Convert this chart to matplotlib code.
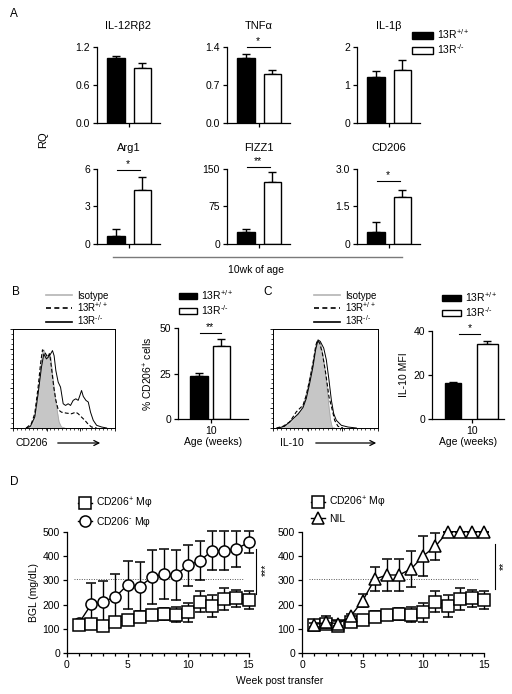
import numpy as np
import matplotlib
matplotlib.use("Agg")
import matplotlib.pyplot as plt
from matplotlib.patches import Patch
from matplotlib.lines import Line2D

plt.rcParams["font.family"] = ["Liberation Sans", "DejaVu Sans"]
plt.rcParams["mathtext.fontset"] = "custom"
plt.rcParams["mathtext.rm"] = "Liberation Sans"
plt.rcParams["mathtext.it"] = "Liberation Sans:italic"
plt.rcParams["font.size"] = 7.5
plt.rcParams["axes.linewidth"] = 0.9
plt.rcParams["xtick.major.width"] = 0.9
plt.rcParams["ytick.major.width"] = 0.9
plt.rcParams["xtick.major.size"] = 3
plt.rcParams["ytick.major.size"] = 3
plt.rcParams["xtick.major.pad"] = 2
plt.rcParams["ytick.major.pad"] = 2

# ---- data: panel A (qPCR, RQ) ----
genes = ["IL-12Rβ2", "TNFα", "IL-1β", "Arg1", "FIZZ1", "CD206"]
rq_wt = [1.03, 1.20, 1.20, 0.64, 23.5, 0.48]
rq_wt_sem = [0.03, 0.07, 0.16, 0.54, 6.5, 0.39]
rq_ko = [0.87, 0.91, 1.39, 4.34, 124.6, 1.88]
rq_ko_sem = [0.07, 0.065, 0.28, 1.04, 19.4, 0.29]
rq_ymax = [1.2, 1.4, 2, 6, 150, 3.0]
rq_ticklabels = [["0.0", "0.6", "1.2"], ["0.0", "0.7", "1.4"], ["0", "1", "2"],
                 ["0", "3", "6"], ["0", "75", "150"], ["0", "1.5", "3.0"]]
rq_sig = ["", "*", "", "*", "**", "*"]
rq_sig_y = [None, 1.40, None, 5.95, 154, 2.52]

# ---- data: panel B / C bars ----
cd206_pct = [23.6, 40.3]
cd206_pct_sem = [1.8, 3.5]
il10_mfi = [16.4, 34.3]
il10_mfi_sem = [0.6, 1.3]

# ---- data: histograms (x, y in % of plot box) ----
b_iso_x = [14.8, 18, 21.3, 23.6, 25.6, 27.2, 28.9, 30.2, 31.8, 33.4, 35.4, 37, 38.7, 41, 43.3, 45.2, 47.5, 50.8]
b_iso_y = [0, 1.7, 9.4, 21, 41, 61, 77, 79, 75, 72, 75.5, 71.5, 55, 34.6, 17.8, 6, 1, 0]
b_wt_x = [13, 18, 21.3, 24.6, 27, 28.9, 30.5, 32, 33.8, 36, 37.7, 40, 42, 44.3, 47.5, 52.5, 57.4, 61.6, 63.9,
          67.2, 70.5, 73.8, 77, 82]
b_wt_y = [0, 4.4, 14.4, 41, 65, 79, 76.5, 75, 71.5, 75, 61, 41, 28, 18.5, 16, 15, 14.4, 16, 14.4,
          11, 7.7, 3.7, 1, 0]
b_ko_x = [13, 17, 21.3, 24.6, 27.9, 30.2, 32.8, 35, 37, 38.7, 40.3, 42, 44.3, 46.6, 49.2, 51.5, 54.1, 56.4,
          59, 61.6, 63.9, 65.6, 67.2, 68.9, 71.5, 73.8, 76, 78.7, 82, 86.9, 91.8]
b_ko_y = [0, 1.7, 11, 34.6, 61.4, 74.8, 69.8, 72, 75, 78.2, 73, 58, 46.3, 41.3, 24.5, 22.8, 24.5, 22.8,
          27.9, 29.5, 27.9, 32.9, 37.9, 31.9, 27.9, 26.2, 16, 7.7, 2.7, 1, 0]
c_iso_x = [4.8, 9.5, 15.9, 22.2, 27, 30.2, 33.3, 36.5, 39.7, 41.3, 42.9, 45, 47, 49.2, 51.4, 53.3, 54.9, 56.5, 58.7]
c_iso_y = [0, 1, 4.4, 12.9, 18, 28, 41.7, 58.6, 75.6, 85.8, 88.5, 86.4, 77.3, 62, 41.7, 21.4, 7.8, 0.3, 0]
c_wt_x = [3.2, 9.5, 15.9, 22.2, 28.6, 31.7, 34.9, 38.1, 40.6, 42.2, 44.4, 47, 50.2, 53.3, 56.5, 58.7, 61.9, 66.7]
c_wt_y = [0, 1.7, 6.1, 16.3, 23, 33, 48.5, 65.4, 82.4, 88.5, 85.8, 75.6, 55.3, 31.5, 18, 7.8, 1.7, 0]
c_ko_x = [4.8, 11, 17.5, 23.8, 28.6, 31.7, 34.9, 38.1, 40.6, 42.9, 45, 48.3, 50.8, 53.3, 55.6, 57.8, 60.3,
          65.1, 71.4, 79.4]
c_ko_y = [0, 1.7, 7.8, 13.9, 20.7, 29.8, 45, 62, 79, 89, 87.5, 80.7, 68.8, 48.5, 28, 14.6, 7.8, 2.7, 1, 0]

# ---- data: panel D (BGL, mg/dL) ----
weeks = list(range(1, 16))
bgl_cd206pos = [116, 120, 114, 127, 137, 151, 158, 160, 158, 168, 212, 196, 223, 226, 221]
bgl_cd206pos_sem = [8, 8, 8, 8, 8, 24, 21, 25, 31, 39, 44, 45, 44, 34, 37]
bgl_cd206neg = [125, 201, 212, 232, 281, 274, 312, 326, 322, 362, 381, 422, 422, 429, 456]
bgl_cd206neg_sem = [8, 87, 84, 93, 100, 103, 111, 103, 104, 85, 81, 79, 79, 73, 45]
bgl_nil = [118, 127, 122, 152, 216, 305, 322, 322, 347, 401, 440, 500, 500, 500, 500]
bgl_nil_sem = [8, 25, 10, 10, 27, 50, 65, 65, 75, 82, 55, 0, 0, 0, 0]
diabetes_cutoff = 305

W, H = 512, 694
fig = plt.figure(figsize=(W / 100, H / 100), dpi=100)


def add_ax(left, top, width, height):
    return fig.add_axes([left / W, 1 - (top + height) / H, width / W, height / H])


def fx(px):
    return px / W


def fy(py):
    return 1 - py / H


wt_label = r"13R$^{+/+}$"
ko_label = r"13R$^{\text{-/-}}$"


def bar_pair(ax, vals, sems, xs, widths, ymax, ticklabels, tick_x):
    colors = ["black", "white"]
    for x, v, s, w, c in zip(xs, vals, sems, widths, colors):
        ax.bar(x, v, width=w, color=c, edgecolor="black", linewidth=1.0, zorder=2)
        ax.errorbar(x, v, yerr=[[0], [s]], fmt="none", ecolor="black", elinewidth=1.0,
                    capsize=3, capthick=1.0, zorder=1)
    ax.set_xlim(0, 1)
    ax.set_ylim(0, ymax)
    ax.set_yticks([0, ymax / 2, ymax])
    ax.set_yticklabels(ticklabels)
    ax.set_xticks([tick_x])
    ax.spines["top"].set_visible(False)
    ax.spines["right"].set_visible(False)


def sig_bar(ax, x0, x1, y, text):
    ax.plot([x0, x1], [y, y], color="black", lw=0.8, clip_on=False)
    ax.annotate(text, xy=((x0 + x1) / 2, y), xytext=(0, 0.5), textcoords="offset points",
                ha="center", va="bottom", fontsize=7.5, annotation_clip=False)


# ---------------- Panel A ----------------
lefts = [97, 227, 357]
tops = [47, 169]
for i, g in enumerate(genes):
    ax = add_ax(lefts[i % 3], tops[i // 3], 63, 76 if i < 3 else 75)
    bar_pair(ax, [rq_wt[i], rq_ko[i]], [rq_wt_sem[i], rq_ko_sem[i]], [0.30, 0.72], [0.28, 0.27],
             rq_ymax[i], rq_ticklabels[i], 0.51)
    ax.set_xticklabels([""])
    ax.set_title(g, fontsize=8, pad=13)
    if rq_sig[i]:
        sig_bar(ax, 0.31, 0.68, rq_sig_y[i], rq_sig[i])

fig.legend(handles=[Patch(facecolor="black", edgecolor="black"),
                    Patch(facecolor="white", edgecolor="black")],
           labels=[wt_label, ko_label], loc="upper left",
           bbox_to_anchor=(fx(407), fy(22)), frameon=False, fontsize=7.5,
           handlelength=2.0, handleheight=0.6, labelspacing=0.12, handletextpad=0.4, borderpad=0)

fig.text(fx(10), fy(14), "A", fontsize=8.5, ha="left", va="center")
fig.text(fx(43), fy(140), "RQ", fontsize=8, rotation=90, ha="center", va="center")
fig.add_artist(Line2D([fx(113), fx(402)], [fy(257), fy(257)], color="#7a7a7a", lw=1.0))
fig.text(fx(256), fy(270), "10wk of age", fontsize=7.5, ha="center", va="center")


# ---------------- Histograms (B and C) ----------------
def histo(ax, iso_x, iso_y, wt_x, wt_y, ko_x, ko_y):
    ax.fill_between(iso_x, iso_y, color="#c6c6c6", lw=0)
    ax.plot(iso_x, iso_y, color="#a8a8a8", lw=0.6)
    ax.plot(wt_x, wt_y, color="black", lw=0.8, ls=(0, (3.5, 2)))
    ax.plot(ko_x, ko_y, color="black", lw=0.7)
    ax.set_xlim(0, 100)
    ax.set_ylim(0, 100)
    ax.set_yticks(np.arange(0, 101, 20))
    ax.set_yticks(np.arange(0, 101, 5), minor=True)
    ax.set_xticks([0, 33, 66, 100])
    ax.set_xticks(np.arange(0, 101, 4), minor=True)
    ax.tick_params(which="major", length=2.5, width=0.6, labelleft=False, labelbottom=False)
    ax.tick_params(which="minor", length=1.2, width=0.5)
    for s in ax.spines.values():
        s.set_linewidth(0.7)


def line_legend(x, y):
    handles = [Line2D([], [], color="#b4b4b4", lw=1.2),
               Line2D([], [], color="black", lw=1.2, ls=(0, (3, 2))),
               Line2D([], [], color="black", lw=1.2)]
    fig.legend(handles=handles, labels=["Isotype", wt_label, ko_label], loc="upper left",
               bbox_to_anchor=(fx(x), fy(y)), frameon=False, fontsize=7, handlelength=2.7,
               labelspacing=-0.08, handletextpad=0.5, borderpad=0)


def bar_legend(x, y, hl):
    fig.legend(handles=[Patch(facecolor="black", edgecolor="black"),
                        Patch(facecolor="white", edgecolor="black")],
               labels=[wt_label, ko_label], loc="upper left",
               bbox_to_anchor=(fx(x), fy(y)), frameon=False, fontsize=7.5,
               handlelength=hl, handleheight=0.5, labelspacing=0.1, handletextpad=0.4, borderpad=0)


axb = add_ax(13, 329, 102, 99)
histo(axb, b_iso_x, b_iso_y, b_wt_x, b_wt_y, b_ko_x, b_ko_y)
fig.text(fx(12), fy(292), "B", fontsize=8.5, ha="left", va="center")
line_legend(41, 286)
fig.text(fx(16), fy(443), "CD206", fontsize=7.5, ha="left", va="center")
fig.add_artist(matplotlib.patches.FancyArrowPatch((fx(55), fy(443)), (fx(103), fy(443)),
                                                  transform=fig.transFigure, arrowstyle="->",
                                                  mutation_scale=9, lw=0.9, color="black"))

axbb = add_ax(178, 328, 70, 91)
bar_pair(axbb, cd206_pct, cd206_pct_sem, [0.30, 0.62], [0.26, 0.25], 50, ["0", "25", "50"], 0.47)
axbb.set_xticklabels(["10"])
axbb.set_xlabel("Age (weeks)", fontsize=7.5, labelpad=1)
axbb.set_ylabel(r"% CD206$^{+}$ cells", fontsize=7.5, labelpad=3)
sig_bar(axbb, 0.31, 0.61, 47.5, "**")
bar_legend(174, 283, 1.7)

axc = add_ax(273, 329, 105, 99)
histo(axc, c_iso_x, c_iso_y, c_wt_x, c_wt_y, c_ko_x, c_ko_y)
fig.text(fx(263), fy(292), "C", fontsize=8.5, ha="left", va="center")
line_legend(309, 286)
fig.text(fx(280), fy(443), "IL-10", fontsize=7.5, ha="left", va="center")
fig.add_artist(matplotlib.patches.FancyArrowPatch((fx(313), fy(443)), (fx(379), fy(443)),
                                                  transform=fig.transFigure, arrowstyle="->",
                                                  mutation_scale=9, lw=0.9, color="black"))

axcb = add_ax(432, 331, 72, 88)
bar_pair(axcb, il10_mfi, il10_mfi_sem, [0.29, 0.77], [0.23, 0.29], 40, ["0", "20", "40"], 0.56)
axcb.set_xticklabels(["10"])
axcb.set_xlabel("Age (weeks)", fontsize=7.5, labelpad=1)
axcb.set_ylabel("IL-10 MFI", fontsize=7.5, labelpad=3)
sig_bar(axcb, 0.375, 0.67, 38.8, "*")
bar_legend(437, 285, 1.8)


# ---------------- Panel D ----------------
def bgl_series(ax, y, sem, marker, z):
    eb = ax.errorbar(weeks, y, yerr=sem, fmt="-" + marker, color="black", ms=8, mfc="white",
                     mec="black", mew=1.1, lw=1.0, elinewidth=1.0, capsize=3.5, capthick=1.0,
                     zorder=z)
    eb[0].set_clip_on(False)
    for a in list(eb[1]) + list(eb[2]):
        a.set_clip_on(False)


def bgl_axes(ax):
    ax.set_xlim(0, 15)
    ax.set_ylim(0, 500)
    ax.set_xticks([0, 5, 10, 15])
    ax.set_xticks(range(16), minor=True)
    ax.set_yticks(range(0, 501, 100))
    ax.tick_params(which="minor", length=2, width=0.9)
    ax.spines["top"].set_visible(False)
    ax.spines["right"].set_visible(False)
    ax.plot([0.6, 14.6], [diabetes_cutoff, diabetes_cutoff], color="#555555", lw=0.7,
            ls=(0, (1, 1.5)), zorder=0)


def bgl_legend(ax, labels, markers, x, y):
    handles = [Line2D([], [], color="black", lw=1, marker=m, ms=8, mfc="white", mew=1.1)
               for m in markers]
    ax.legend(handles=handles, labels=labels, loc="upper left",
              bbox_to_anchor=(fx(x), fy(y)), bbox_transform=fig.transFigure, frameon=False,
              fontsize=7.5, handlelength=1.3, labelspacing=0.3, handletextpad=0.4, borderpad=0)


axd1 = add_ax(67, 531.7, 181.5, 121.6)
bgl_axes(axd1)
bgl_series(axd1, bgl_cd206neg, bgl_cd206neg_sem, "o", 3)
bgl_series(axd1, bgl_cd206pos, bgl_cd206pos_sem, "s", 4)
axd1.plot([15.6, 15.6], [244, 429], color="black", lw=0.8, clip_on=False)
axd1.text(16.4, 345, "***", rotation=90, ha="center", va="center", fontsize=7.5, clip_on=False)
axd1.set_ylabel("BGL (mg/dL)", fontsize=7.5, labelpad=3)
bgl_legend(axd1, [r"CD206$^{+}$ Mφ", r"CD206$^{\text{-}}$ Mφ"], ["s", "o"], 73, 491)

axd2 = add_ax(302, 531.7, 182, 121.6)
bgl_axes(axd2)
bgl_series(axd2, bgl_cd206pos, bgl_cd206pos_sem, "s", 3)
bgl_series(axd2, bgl_nil, bgl_nil_sem, "^", 4)
axd2.plot([15.9, 15.9], [266, 451], color="black", lw=0.8, clip_on=False)
axd2.text(16.6, 358, "**", rotation=90, ha="center", va="center", fontsize=7.5, clip_on=False)
bgl_legend(axd2, [r"CD206$^{+}$ Mφ", "NIL"], ["s", "^"], 306, 490)

fig.text(fx(10), fy(482), "D", fontsize=8.5, ha="left", va="center")
fig.text(fx(280), fy(681), "Week post transfer", fontsize=7.5, ha="center", va="center")

fig.savefig("out.png", dpi=100)
